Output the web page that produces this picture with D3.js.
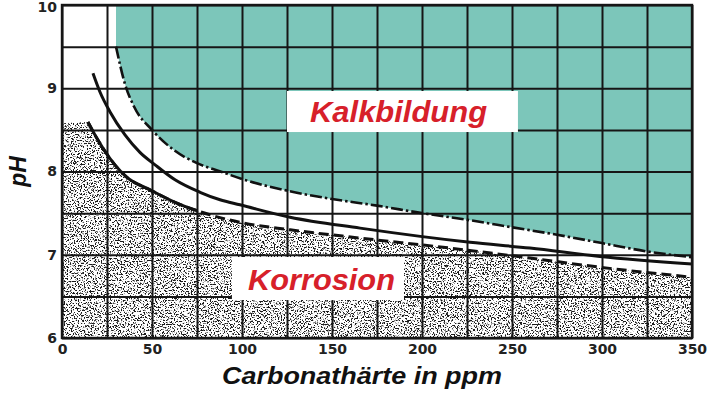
<!DOCTYPE html>
<html>
<head>
<meta charset="utf-8">
<script src="https://cdn.jsdelivr.net/npm/d3@7"></script>
<style>
  body { margin: 0; background: #fff; }
  svg { display: block; }
</style>
</head>
<body>
<div id="chart"></div>
<script>
  // grid and tick values
  var xGrid = [0, 25, 50, 75, 100, 125, 150, 175, 200, 225, 250, 275, 300, 325, 350];
  var yGrid = [6, 6.5, 7, 7.5, 8, 8.5, 9, 9.5, 10];
  var xTickLabels = [0, 50, 100, 150, 200, 250, 300, 350];
  var yTickLabels = [6, 7, 8, 9, 10];

  // curves: [Carbonathärte, pH]
  var tealBoundary = [[30, 9.5], [35, 9.05], [40, 8.78], [50, 8.5], [62, 8.26], [75, 8.1], [88, 8.0],
    [100, 7.91], [125, 7.77], [150, 7.67], [175, 7.59], [200, 7.5], [225, 7.42], [250, 7.33],
    [275, 7.24], [300, 7.14], [325, 7.04], [350, 6.97]];
  var solidCurve = [[17.2, 9.18], [21.1, 8.955], [26.7, 8.715], [35, 8.44], [43.3, 8.23], [51.7, 8.08],
    [62.8, 7.9], [76.7, 7.75], [87.8, 7.66], [98.9, 7.6], [126.7, 7.45], [165.6, 7.32],
    [226.7, 7.15], [260, 7.08], [298.9, 6.98], [350, 6.89]];
  var lowerCurve = [[14.4, 8.595], [18.3, 8.44], [22.8, 8.28], [29.4, 8.08], [36.1, 7.93], [48.9, 7.78],
    [62.8, 7.63], [82.2, 7.48], [98.9, 7.39], [126.7, 7.3], [165.6, 7.2], [215.6, 7.08],
    [260, 6.96], [298.9, 6.85], [350, 6.73]];
  var lowerSolidUntil = 75;
  var stippleLeftTop = 8.58;
  var tealLeft = 30;

  // labels (positions in data units)
  var labels = [
    {text: "Kalkbildung", box: [125, 253.3, 8.967, 8.474], x: 137.8, y: 8.595, len: 177, size: 29},
    {text: "Korrosion", box: [94.4, 190, 6.973, 6.456], x: 103.3, y: 6.577, len: 147, size: 30}
  ];

  var W = 710, H = 401;
  var margin = {left: 62, right: 18, top: 5, bottom: 63};

  var x = d3.scaleLinear().domain([0, 350]).range([margin.left, W - margin.right]);
  var y = d3.scaleLinear().domain([6, 10]).range([H - margin.bottom, margin.top]);

  var svg = d3.select("#chart").append("svg")
    .attr("width", W)
    .attr("height", H);

  var defs = svg.append("defs");

  var filter = defs.append("filter")
    .attr("id", "grain")
    .attr("filterUnits", "userSpaceOnUse")
    .attr("x", x(0)).attr("y", y(10))
    .attr("width", x(350) - x(0)).attr("height", y(6) - y(10))
    .attr("color-interpolation-filters", "sRGB");
  filter.append("feTurbulence")
    .attr("type", "fractalNoise")
    .attr("baseFrequency", 0.7)
    .attr("numOctaves", 3)
    .attr("seed", 7)
    .attr("result", "noise");
  filter.append("feColorMatrix")
    .attr("in", "noise")
    .attr("type", "matrix")
    .attr("values", "0 0 0 0 0.1  0 0 0 0 0.1  0 0 0 0 0.1  -10 0 0 0 4.75")
    .attr("result", "spots");
  filter.append("feComposite")
    .attr("in", "spots").attr("in2", "SourceAlpha")
    .attr("operator", "in").attr("result", "clipped");
  var merge = filter.append("feMerge");
  merge.append("feMergeNode").attr("in", "SourceGraphic");
  merge.append("feMergeNode").attr("in", "clipped");

  defs.append("clipPath").attr("id", "solidPart")
    .append("rect")
    .attr("x", 0).attr("y", 0)
    .attr("width", x(lowerSolidUntil)).attr("height", H);

  var line = d3.line()
    .x(function (d) { return x(d[0]); })
    .y(function (d) { return y(d[1]); })
    .curve(d3.curveMonotoneX);

  // teal area (Kalkbildung)
  svg.append("path")
    .attr("d", "M" + x(tealLeft) + "," + y(10) + "L" + line(tealBoundary).slice(1) +
      "L" + x(350) + "," + y(10) + "Z")
    .style("fill", "#7cc6ba");

  // stippled area (Korrosion)
  svg.append("path")
    .attr("d", "M" + x(0) + "," + y(stippleLeftTop) + "L" + line(lowerCurve).slice(1) +
      "L" + x(350) + "," + y(6) + "L" + x(0) + "," + y(6) + "Z")
    .style("fill", "#fff")
    .attr("filter", "url(#grain)");

  // grid
  var gridColor = "#161616";
  svg.append("g")
    .attr("class", "grid x")
    .attr("transform", "translate(0," + y(6) + ")")
    .call(d3.axisBottom(x).tickValues(xGrid).tickSize(-(y(6) - y(10))).tickFormat(""))
    .call(function (g) { g.select(".domain").remove(); })
    .selectAll("line")
    .style("stroke", gridColor)
    .style("stroke-width", 2);

  svg.append("g")
    .attr("class", "grid y")
    .attr("transform", "translate(" + x(0) + ",0)")
    .call(d3.axisLeft(y).tickValues(yGrid).tickSize(-(x(350) - x(0))).tickFormat(""))
    .call(function (g) { g.select(".domain").remove(); })
    .selectAll("line")
    .style("stroke", gridColor)
    .style("stroke-width", 2);

  // curves
  svg.append("path")
    .attr("d", line(tealBoundary))
    .style("fill", "none")
    .style("stroke", "#111")
    .style("stroke-width", 2.6)
    .style("stroke-dasharray", "12,3,2.5,3");

  svg.append("path")
    .attr("d", line(solidCurve))
    .style("fill", "none")
    .style("stroke", "#111")
    .style("stroke-width", 3);

  svg.append("path")
    .attr("d", line(lowerCurve))
    .style("fill", "none")
    .style("stroke", "#111")
    .style("stroke-width", 3)
    .style("stroke-dasharray", "10,5");

  svg.append("path")
    .attr("d", line(lowerCurve))
    .attr("clip-path", "url(#solidPart)")
    .style("fill", "none")
    .style("stroke", "#111")
    .style("stroke-width", 3);

  // frame
  svg.append("rect")
    .attr("x", x(0)).attr("y", y(10))
    .attr("width", x(350) - x(0)).attr("height", y(6) - y(10))
    .style("fill", "none")
    .style("stroke", gridColor)
    .style("stroke-width", 2.4);

  // region labels
  labels.forEach(function (l) {
    svg.append("rect")
      .attr("x", x(l.box[0]))
      .attr("y", y(l.box[2]))
      .attr("width", x(l.box[1]) - x(l.box[0]))
      .attr("height", y(l.box[3]) - y(l.box[2]))
      .style("fill", "#fff");
    svg.append("text")
      .attr("x", x(l.x))
      .attr("y", y(l.y))
      .attr("textLength", l.len)
      .attr("lengthAdjust", "spacingAndGlyphs")
      .style("font-family", "'Liberation Sans', Arial, sans-serif")
      .style("font-weight", "bold")
      .style("font-style", "italic")
      .style("font-size", l.size + "px")
      .style("fill", "#d7202a")
      .text(l.text);
  });

  // tick labels
  svg.append("g")
    .attr("class", "axis x")
    .attr("transform", "translate(0," + y(6) + ")")
    .call(d3.axisBottom(x).tickValues(xTickLabels).tickSize(0).tickPadding(6).tickFormat(d3.format("d")));
  svg.append("g")
    .attr("class", "axis y")
    .attr("transform", "translate(" + x(0) + ",0)")
    .call(d3.axisLeft(y).tickValues(yTickLabels).tickSize(0).tickPadding(5).tickFormat(d3.format("d")));
  svg.selectAll(".axis .domain").remove();
  svg.selectAll(".axis text")
    .style("font-family", "'DejaVu Sans', sans-serif")
    .style("font-weight", "bold")
    .style("font-size", "14px")
    .style("fill", "#222");
  // keep the top label inside the picture
  svg.selectAll(".axis.y .tick text")
    .filter(function (d) { return d === 10; })
    .attr("dy", "0.7em")
    .attr("y", -3);

  // axis titles
  svg.append("text")
    .attr("transform", "translate(26," + ((y(6) + y(10)) / 2) + ") rotate(-90)")
    .attr("text-anchor", "middle")
    .style("font-family", "'Liberation Sans', Arial, sans-serif")
    .style("font-weight", "bold")
    .style("font-style", "italic")
    .style("font-size", "23px")
    .style("fill", "#111")
    .text("pH");

  svg.append("text")
    .attr("x", 222)
    .attr("y", 384)
    .attr("textLength", 280)
    .attr("lengthAdjust", "spacingAndGlyphs")
    .style("font-family", "'Liberation Sans', Arial, sans-serif")
    .style("font-weight", "bold")
    .style("font-style", "italic")
    .style("font-size", "24px")
    .style("fill", "#111")
    .text("Carbonathärte in ppm");
</script>
</body>
</html>
